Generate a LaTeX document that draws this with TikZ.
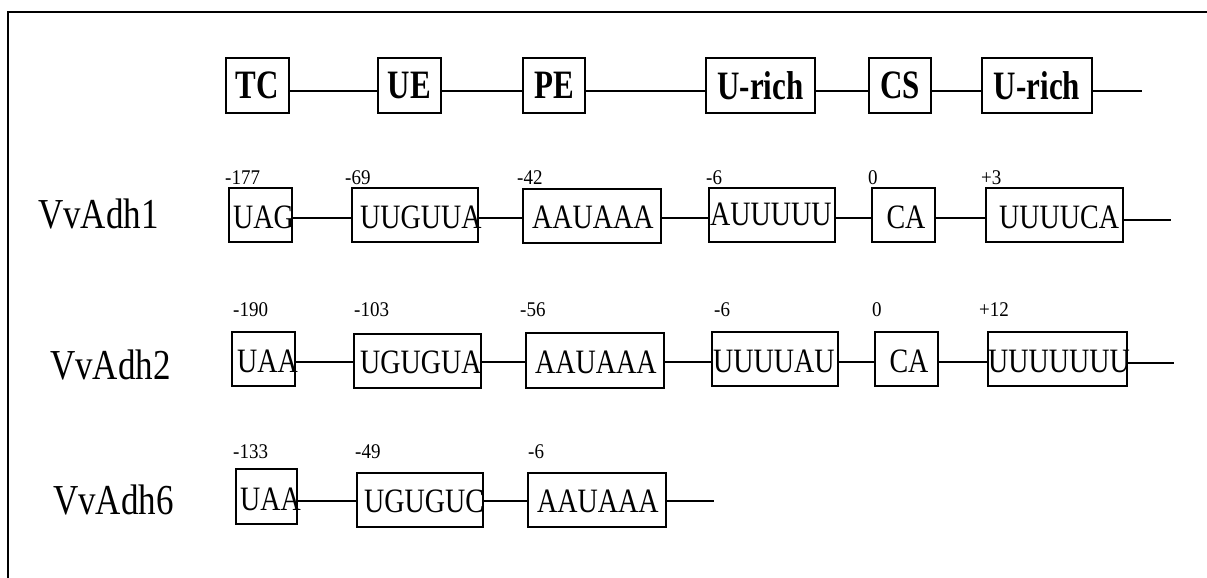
\documentclass[tikz,border=0pt]{standalone}
\usepackage{fontspec}
\setmainfont{Liberation Serif}
\usepackage{graphicx}
\newcommand{\stretchy}[2]{\scalebox{1}[#1]{#2}}
\newcommand{\conn}[3]{\draw[conn] (#1.east |- 0,#3) -- (#2.west |- 0,#3);}
\tikzset{
  x=1pt, y=-1pt,
  hbox/.style={draw, line width=1.5pt, inner sep=0pt, minimum height=55pt,
    font=\fontsize{31}{31}\selectfont\bfseries},
  sbox/.style={draw, line width=1.5pt, inner sep=0pt},
  seq/.style={inner sep=0pt, anchor=west, font=\fontsize{28}{28}\selectfont},
  lab/.style={inner sep=0pt, anchor=west, font=\fontsize{19}{19}\selectfont},
  gname/.style={inner sep=0pt, anchor=west, font=\fontsize{35}{35}\selectfont},
  conn/.style={line width=1.4pt},
}
\begin{document}
\begin{tikzpicture}
\useasboundingbox (0,0) rectangle (1207,578);
\draw[line width=2.2pt] (8,578) -- (8,12) -- (1207,12);

% header
\node[hbox, minimum width=63pt] (TC) at (257.5,85.5) {\stretchy{1.3}{TC}};
\node[hbox, minimum width=63pt] (UE) at (409.5,85.5) {\stretchy{1.3}{UE}};
\node[hbox, minimum width=62pt] (PE) at (554,85.5) {\stretchy{1.3}{PE}};
\node[hbox, minimum width=109pt] (UR1) at (760.5,85.5) {\stretchy{1.3}{U-rich}};
\node[hbox, minimum width=62pt] (CS) at (900,85.5) {\stretchy{1.3}{CS}};
\node[hbox, minimum width=110pt] (UR2) at (1037,85.5) {\stretchy{1.3}{U-rich}};
\coordinate (hend) at (1142,91);
\conn{TC}{UE}{91}
\conn{UE}{PE}{91}
\conn{PE}{UR1}{91}
\conn{UR1}{CS}{91}
\conn{CS}{UR2}{91}
\draw[conn] (UR2.east |- hend) -- (hend);

% row names
\node[gname] (n1) at (38,214) {\stretchy{1.22}{VvAdh1}};
\node[gname] (n2) at (50,365) {\stretchy{1.22}{VvAdh2}};
\node[gname] (n6) at (53,500) {\stretchy{1.22}{VvAdh6}};

% row 1
\node[sbox, minimum width=63pt, minimum height=54pt] (a1) at (260.5,215) {};
\node[sbox, minimum width=126pt, minimum height=54pt] (a2) at (415,215) {};
\node[sbox, minimum width=138pt, minimum height=54pt] (a3) at (592,216) {};
\node[sbox, minimum width=126pt, minimum height=54pt] (a4) at (772,215) {};
\node[sbox, minimum width=63pt, minimum height=54pt] (a5) at (903.5,215) {};
\node[sbox, minimum width=137pt, minimum height=54pt] (a6) at (1054.5,215) {};
\coordinate (aend) at (1171,220);
\conn{a1}{a2}{218}
\conn{a2}{a3}{218}
\conn{a3}{a4}{218}
\conn{a4}{a5}{218}
\conn{a5}{a6}{218}
\draw[conn] (a6.east |- aend) -- (aend);
\node[seq] (ta1) at (233,217) {\stretchy{1.22}{UAG}};
\node[seq] (ta2) at (360,217) {\stretchy{1.22}{UUGUUA}};
\node[seq] (ta3) at (532,217) {\stretchy{1.22}{AAUAAA}};
\node[seq] (ta4) at (710,214) {\stretchy{1.22}{AUUUUU}};
\node[seq, anchor=center] (ta5) at (906,217) {\stretchy{1.22}{CA}};
\node[seq] (ta6) at (999,217) {\stretchy{1.22}{UUUUCA}};
\node[lab] (la1) at (225,178) {\stretchy{1.1}{-177}};
\node[lab] (la2) at (345,178) {\stretchy{1.1}{-69}};
\node[lab] (la3) at (517,178) {\stretchy{1.1}{-42}};
\node[lab] (la4) at (706,178) {\stretchy{1.1}{-6}};
\node[lab] (la5) at (868,178) {\stretchy{1.1}{0}};
\node[lab] (la6) at (981,178) {\stretchy{1.1}{+3}};

% row 2
\node[sbox, minimum width=63pt, minimum height=54pt] (b1) at (263.5,359) {};
\node[sbox, minimum width=127pt, minimum height=54pt] (b2) at (417.5,361) {};
\node[sbox, minimum width=138pt, minimum height=55pt] (b3) at (595,360.5) {};
\node[sbox, minimum width=126pt, minimum height=54pt] (b4) at (775,359) {};
\node[sbox, minimum width=63pt, minimum height=54pt] (b5) at (906.5,359) {};
\node[sbox, minimum width=139pt, minimum height=54pt] (b6) at (1057.5,359) {};
\coordinate (bend) at (1174,363);
\conn{b1}{b2}{362}
\conn{b2}{b3}{362}
\conn{b3}{b4}{362}
\conn{b4}{b5}{362}
\conn{b5}{b6}{362}
\draw[conn] (b6.east |- bend) -- (bend);
\node[seq] (tb1) at (237,361) {\stretchy{1.22}{UAA}};
\node[seq] (tb2) at (360,362) {\stretchy{1.22}{UGUGUA}};
\node[seq] (tb3) at (535,362) {\stretchy{1.22}{AAUAAA}};
\node[seq] (tb4) at (713,361) {\stretchy{1.22}{UUUUAU}};
\node[seq, anchor=center] (tb5) at (909,361) {\stretchy{1.22}{CA}};
\node[seq] (tb6) at (988,361) {\stretchy{1.22}{UUUUUUU}};
\node[lab] (lb1) at (233,310) {\stretchy{1.1}{-190}};
\node[lab] (lb2) at (354,310) {\stretchy{1.1}{-103}};
\node[lab] (lb3) at (520,310) {\stretchy{1.1}{-56}};
\node[lab] (lb4) at (714,310) {\stretchy{1.1}{-6}};
\node[lab] (lb5) at (872,310) {\stretchy{1.1}{0}};
\node[lab] (lb6) at (979,310) {\stretchy{1.1}{+12}};

% row 3
\node[sbox, minimum width=61pt, minimum height=55pt] (c1) at (266.5,496.5) {};
\node[sbox, minimum width=126pt, minimum height=54pt] (c2) at (420,500) {};
\node[sbox, minimum width=138pt, minimum height=54pt] (c3) at (597,500) {};
\coordinate (cend) at (714,501);
\conn{c1}{c2}{501}
\conn{c2}{c3}{501}
\draw[conn] (c3.east |- cend) -- (cend);
\node[seq] (tc1) at (240,499) {\stretchy{1.22}{UAA}};
\node[seq] (tc2) at (364,501) {\stretchy{1.22}{UGUGUC}};
\node[seq] (tc3) at (537,501) {\stretchy{1.22}{AAUAAA}};
\node[lab] (lc1) at (233,452) {\stretchy{1.1}{-133}};
\node[lab] (lc2) at (355,452) {\stretchy{1.1}{-49}};
\node[lab] (lc3) at (528,452) {\stretchy{1.1}{-6}};
\end{tikzpicture}
\end{document}
